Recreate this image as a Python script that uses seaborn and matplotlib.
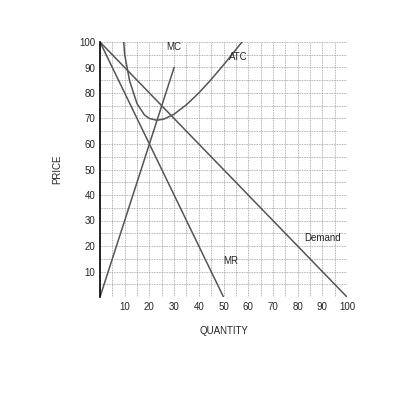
import matplotlib
matplotlib.use("Agg")
import matplotlib.pyplot as plt
import seaborn as sns
import numpy as np

# curve data
demand_q = [0, 100]
demand_p = [100, 0]
mr_q = [0, 50]
mr_p = [100, 0]
mc_q = [0, 30]
mc_p = [0, 90]
atc_q = [9.6, 10, 12, 15, 18, 20, 23, 26, 30, 35, 40, 45, 50, 55, 57.5]
atc_p = [100, 95, 84.7, 75.8, 71.4, 70, 69.3, 69.8, 71.7, 75.4, 80, 85.3, 91, 97, 100]

sns.set_style("white")
plt.rcParams['font.family'] = ['Liberation Sans', 'DejaVu Sans']

fig = plt.figure(figsize=(4, 4), dpi=100)
ax = fig.add_axes([0.25, 0.2575, 0.6175, 0.6375])

line_kw = dict(color="#555555", linewidth=1.1)
sns.lineplot(x=demand_q, y=demand_p, ax=ax, **line_kw)
sns.lineplot(x=mr_q, y=mr_p, ax=ax, **line_kw)
sns.lineplot(x=mc_q, y=mc_p, ax=ax, **line_kw)
ax.plot(atc_q, atc_p, **line_kw)

ax.set_xlim(0, 100)
ax.set_ylim(0, 100)
ax.set_xticks(range(10, 101, 10))
ax.set_yticks(range(10, 101, 10))
ax.set_xticks(range(0, 101, 5), minor=True)
ax.set_yticks(range(0, 101, 5), minor=True)
ax.grid(True, which="both", linestyle=(0, (1, 1)), color="#999999", linewidth=0.6)
ax.tick_params(labelsize=7, length=0)
ax.tick_params(axis="y", which="major", length=3, direction="in", color="black")
for s in ["top", "right", "bottom"]:
    ax.spines[s].set_visible(False)
ax.spines["left"].set_color("black")
ax.spines["left"].set_linewidth(1.2)

ax.set_xlabel("QUANTITY", fontsize=7, labelpad=10)
ax.set_ylabel("PRICE", fontsize=7, labelpad=12)

ax.text(30, 98, "MC", fontsize=7, ha="center", va="center")
ax.text(56, 94, "ATC", fontsize=7, ha="center", va="center")
ax.text(90, 23, "Demand", fontsize=7, ha="center", va="center")
ax.text(53, 14, "MR", fontsize=7, ha="center", va="center")

fig.savefig("out.png", dpi=100, facecolor="white")
